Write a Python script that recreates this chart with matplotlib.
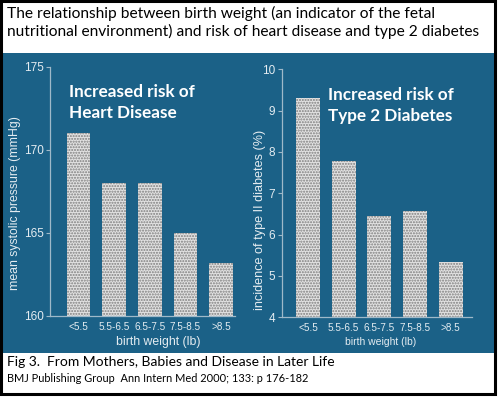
import matplotlib
matplotlib.use("Agg")
import matplotlib.pyplot as plt
from matplotlib.patches import Rectangle

categories = ["<5.5", "5.5-6.5", "6.5-7.5", "7.5-8.5", ">8.5"]
bp_values = [171.0, 168.0, 168.0, 165.0, 163.2]
diab_values = [9.3, 7.78, 6.45, 6.57, 5.35]
bp_ticks = [160, 165, 170, 175]
diab_ticks = [4, 5, 6, 7, 8, 9, 10]

title = ("The relationship between birth weight (an indicator of the fetal\n"
         "nutritional environment) and risk of heart disease and type 2 diabetes")
footer1 = "Fig 3.  From Mothers, Babies and Disease in Later Life"
footer2 = "BMJ Publishing Group  Ann Intern Med 2000; 133: p 176-182"
xlabel = "birth weight (lb)"

W, H = 500, 398
fig = plt.figure(figsize=(W / 100, H / 100), dpi=100)
fig.patch.set_facecolor("white")

def fx(x):
    return x / W

def fy(y):
    return 1 - y / H

# blue panel
fig.patches.append(Rectangle((fx(2), fy(353)), fx(492), (353 - 53) / H,
                             transform=fig.transFigure, facecolor="#1b6187",
                             edgecolor="none", zorder=-5))
# outer border
fig.patches.append(Rectangle((fx(1), fy(394)), fx(494), 393 / H,
                             transform=fig.transFigure, facecolor="none",
                             edgecolor="black", linewidth=2.2, zorder=5))

AXC = "#9fb9c9"
TXT = "#e4ecf1"
tick_font = ["Liberation Sans", "DejaVu Sans"]
head_font = ["Lato", "DejaVu Sans"]

def make_axes(rect, values, ticks, xlim, ylabel, ylsize, yl_xy, inset, inset_xy):
    ax = fig.add_axes(rect)
    ax.set_zorder(2)
    ax.set_facecolor("none")
    x = list(range(len(values)))
    ax.bar(x, [v - ticks[0] for v in values], bottom=ticks[0], width=0.67,
           color="#e2e2e2", edgecolor="#7e7e7e", hatch="......", linewidth=0)
    ax.set_ylim(ticks[0], ticks[-1])
    ax.set_xlim(*xlim)
    ax.set_yticks(ticks)
    ax.set_xticks(x)
    ax.set_xticklabels(categories)
    for s in ["top", "right"]:
        ax.spines[s].set_visible(False)
    for s in ["left", "bottom"]:
        ax.spines[s].set_color(AXC)
        ax.spines[s].set_linewidth(0.9)
    ax.tick_params(axis="y", colors=AXC, labelcolor=TXT, length=3, width=0.8,
                   labelsize=8.5, pad=1.5)
    ax.tick_params(axis="x", length=0, labelcolor=TXT, labelsize=7.2, pad=4)
    for lab in ax.get_xticklabels() + ax.get_yticklabels():
        lab.set_family(tick_font)
    fig.text(fx(yl_xy[0]), fy(yl_xy[1]), ylabel, color=TXT, fontsize=ylsize,
             family=tick_font, rotation=90, ha="center", va="center", zorder=6)
    fig.text(inset_xy[0], inset_xy[1], inset,
             color="white", fontsize=12.3, fontweight="bold", family=head_font,
             va="top", ha="left", linespacing=1.35, zorder=6)
    return ax

ax1 = make_axes([fx(50), fy(316), fx(185), (316 - 67) / H], bp_values, bp_ticks,
                (-0.8, 4.39), "mean systolic pressure (mmHg)", 8.8, (15, 203),
                "Increased risk of\nHeart Disease", (fx(69), fy(84)))
ax2 = make_axes([fx(281.7), fy(317.3), fx(190), (317.3 - 69.3) / H], diab_values,
                diab_ticks, (-0.74, 4.59), "incidence of type II diabetes (%)",
                9.1, (260, 220), "Increased risk of\nType 2 Diabetes",
                (fx(328), fy(87)))

fig.text(fx(158), fy(342), xlabel, color=TXT, fontsize=8.8, family=tick_font,
         ha="center", va="center", zorder=6)
fig.text(fx(381), fy(342), xlabel, color=TXT, fontsize=7.5, family=tick_font,
         ha="center", va="center", zorder=6)

fig.text(fx(7), fy(6), title, fontsize=11.2, family=head_font, color="black",
         va="top", ha="left", linespacing=1.2)
fig.text(fx(7), fy(356), footer1, fontsize=10.0, family=head_font, color="black",
         va="top", ha="left")
fig.text(fx(7), fy(373), footer2, fontsize=7.9, family=head_font, color="black",
         va="top", ha="left")

fig.savefig("out.png", dpi=100, facecolor="white")
